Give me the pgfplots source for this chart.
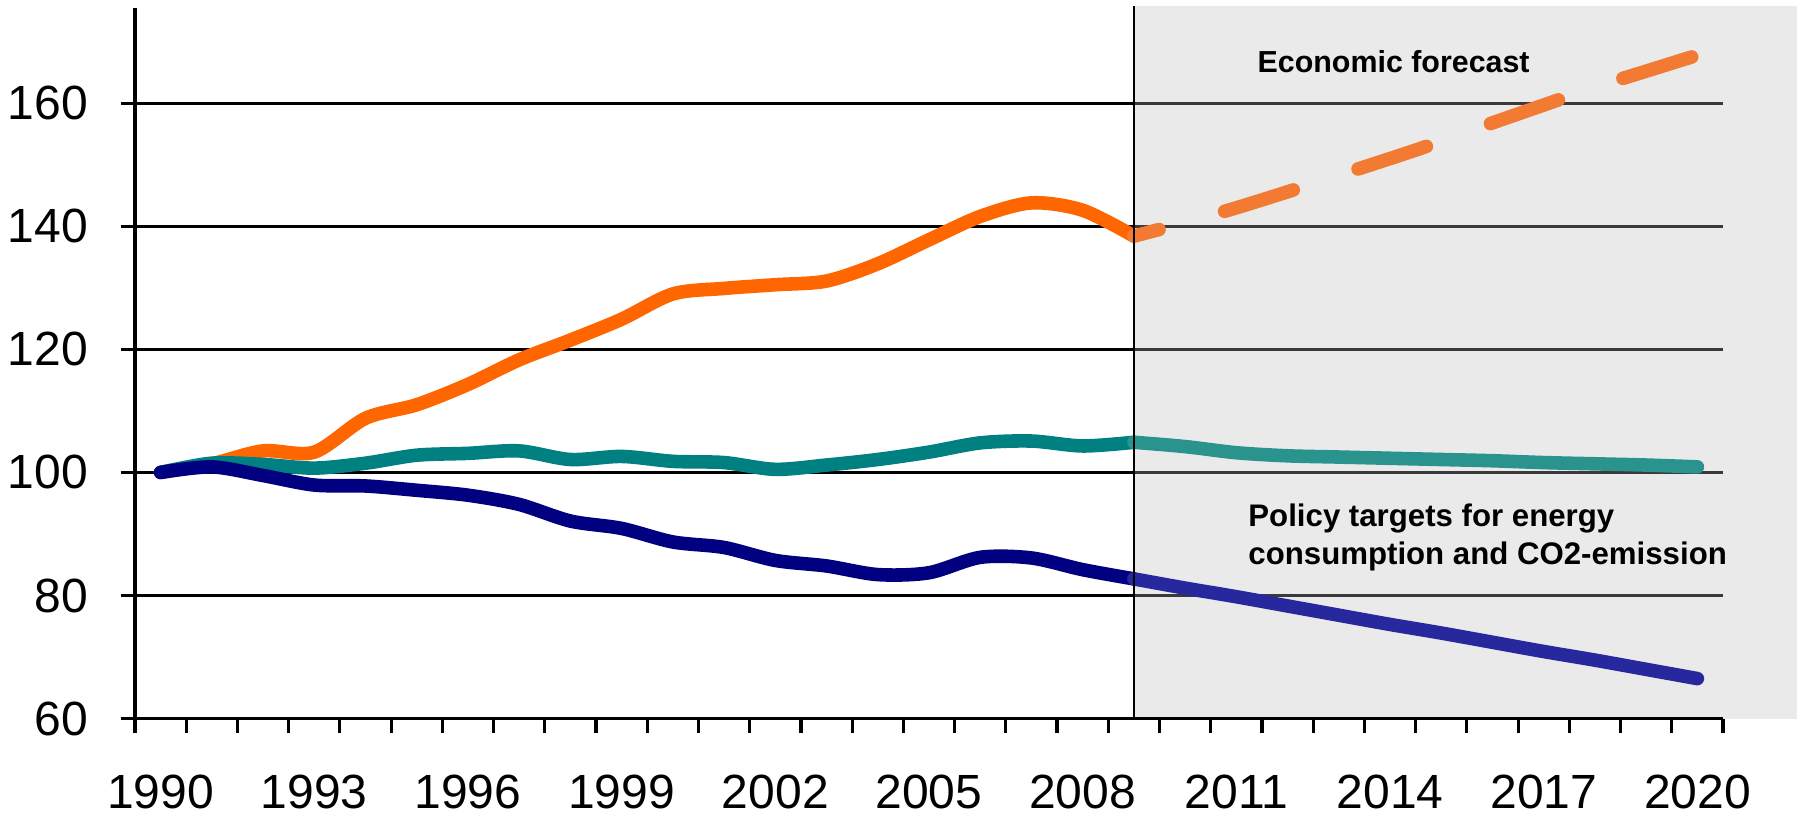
\documentclass[border=0pt]{standalone}
\usepackage{fontspec}
\setmainfont{Liberation Sans}
\usepackage{pgfplots}
\pgfplotsset{compat=1.18}

\definecolor{cOr}{HTML}{FF6600}
\definecolor{cOrF}{HTML}{F27A32}
\definecolor{cTe}{HTML}{008080}
\definecolor{cTeF}{HTML}{2A938D}
\definecolor{cBl}{HTML}{000080}
\definecolor{cBlF}{HTML}{28289E}
\definecolor{shadegray}{HTML}{EAEAEA}
\definecolor{gridfc}{HTML}{3A3A3A}

\pgfplotstableread{
yr val
1990 100.0
1991 101.4
1992 103.5
1993 103.3
1994 108.8
1995 111.0
1996 114.3
1997 118.3
1998 121.5
1999 124.9
2000 129.0
2001 129.9
2002 130.5
2003 131.1
2004 133.9
2005 137.8
2006 141.6
2007 143.8
2008 142.6
2009 138.4
}\orangehist

\pgfplotstableread{
yr val
2009 138.4
2010 140.6
2011 143.0
2012 145.6
2013 148.3
2014 151.0
2015 153.8
2016 156.8
2017 159.7
2018 162.6
2019 165.2
2020 167.8
}\orangefc

\pgfplotstableread{
yr val
1990 100.0
1991 101.5
1992 101.3
1993 100.7
1994 101.5
1995 102.8
1996 103.1
1997 103.5
1998 102.1
1999 102.6
2000 101.8
2001 101.6
2002 100.5
2003 101.2
2004 102.1
2005 103.3
2006 104.8
2007 105.1
2008 104.3
2009 104.9
}\tealhist

\pgfplotstableread{
yr val
2009 104.9
2010 104.2
2011 103.2
2012 102.7
2013 102.5
2014 102.3
2015 102.1
2016 101.9
2017 101.6
2018 101.4
2019 101.2
2020 100.9
}\tealfc

\pgfplotstableread{
yr val
1990 100.0
1991 100.9
1992 99.5
1993 97.95
1994 97.8
1995 97.1
1996 96.3
1997 94.8
1998 92.1
1999 90.9
2000 88.7
2001 87.8
2002 85.7
2003 84.8
2004 83.4
2005 83.7
2006 86.2
2007 86.1
2008 84.2
2009 82.7
}\bluehist

\pgfplotstableread{
yr val
2009 82.7
2010 81.2
2011 79.8
2012 78.3
2013 76.8
2014 75.3
2015 73.9
2016 72.4
2017 70.9
2018 69.5
2019 68.0
2020 66.5
}\bluefc

\begin{document}
\begin{tikzpicture}
\begin{axis}[
  name=ax, scale only axis, clip=false,
  width=397pt, height=177.7pt,
  xmin=1989.5, xmax=2020.5, ymin=60, ymax=175.5,
  axis x line*=bottom, axis y line*=left,
  axis line style={line width=0.8pt, black},
  xtick={1989.5,1990.5,...,2020.5}, xticklabels={},
  extra x ticks={1990,1993,...,2020},
  extra x tick labels={1990,1993,1996,1999,2002,2005,2008,2011,2014,2017,2020},
  extra x tick style={tick style={draw=none}, grid=none},
  ytick={60,80,...,160},
  ymajorgrids, xmajorgrids=false,
  grid style={line width=0.7pt, black},
  tick align=outside, major tick length=3.6pt,
  tick style={line width=0.8pt, black},
  ticklabel style={font=\fontsize{12}{14}\selectfont},
  xticklabel style={yshift=-7pt},
  yticklabel style={xshift=-4.6pt},
  /pgf/number format/assume math mode=true,
]
% forecast background panel
\fill[shadegray] (axis cs:2009,60) rectangle (axis cs:2021.96,175.8);
\pgfplotsinvokeforeach{80,100,120,140,160}{
  \draw[gridfc, line width=0.7pt] (axis cs:2009,#1) -- (axis cs:2020.5,#1);
}
\draw[black, line width=0.8pt] (axis cs:2009,60) -- (axis cs:2020.5,60);

\addplot[cOr, line width=3.4pt, smooth, line cap=round, line join=round] table[x=yr,y=val] {\orangehist};
\addplot[cTe, line width=3.4pt, smooth, line cap=round, line join=round] table[x=yr,y=val] {\tealhist};
\addplot[cBl, line width=3.4pt, smooth, line cap=round, line join=round] table[x=yr,y=val] {\bluehist};

\addplot[cOrF, line width=3.4pt, smooth, line cap=round, dash pattern=on 18pt off 17pt, dash phase=11.5pt] table[x=yr,y=val] {\orangefc};
\addplot[cTeF, line width=3.4pt, smooth, line cap=round, line join=round] table[x=yr,y=val] {\tealfc};
\addplot[cBlF, line width=3.4pt, smooth, line cap=round, line join=round] table[x=yr,y=val] {\bluefc};

\draw[black, line width=0.6pt] (axis cs:2009,60) -- (axis cs:2009,175.8);

\node[anchor=center, inner sep=0pt, font=\bfseries\fontsize{7.6}{9}\selectfont] at (axis cs:2014.07,166.7) {Economic forecast};
\node[anchor=west, inner sep=0pt, align=left, font=\bfseries\fontsize{7.8}{9.5}\selectfont] at (axis cs:2011.22,89.4) {Policy targets for energy\\consumption and CO2-emission};
\end{axis}
\pgfresetboundingbox
\path[use as bounding box] ([xshift=-33.75pt,yshift=-25.85pt]ax.south west) rectangle ++(449.25pt,205.5pt);
\end{tikzpicture}
\end{document}
